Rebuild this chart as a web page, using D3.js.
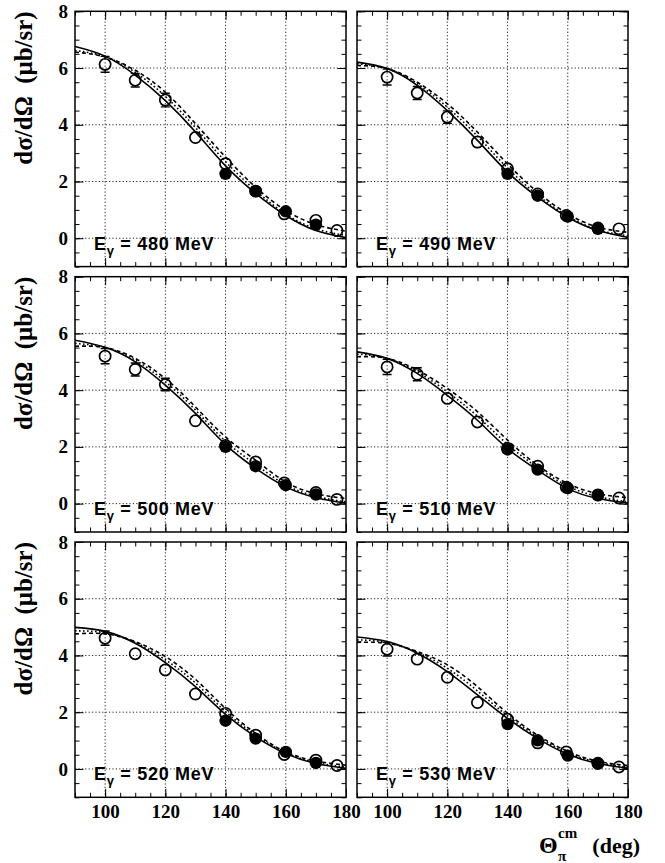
<!DOCTYPE html>
<html>
<head>
<meta charset="utf-8">
<script src="https://cdn.jsdelivr.net/npm/d3@7"></script>
<style>
  html, body { margin: 0; padding: 0; background: #fff; }
  svg { display: block; }
</style>
</head>
<body>
<div id="chart"></div>
<script>
// ---------------- data ----------------
const energies = [480, 490, 500, 510, 520, 530];

const openAngles = [100, 110, 120, 130, 140, 150, 159.5, 170, 177];
const openValues = [
  [6.13, 5.57, 4.87, 3.55, 2.63, 1.66, 0.86, 0.63, 0.27],
  [5.68, 5.12, 4.27, 3.39, 2.45, 1.56, 0.80, 0.36, 0.33],
  [5.20, 4.73, 4.20, 2.92, 2.05, 1.47, 0.73, 0.39, 0.15],
  [4.82, 4.56, 3.71, 2.88, 1.95, 1.32, 0.58, 0.31, 0.20],
  [4.61, 4.06, 3.49, 2.64, 1.96, 1.19, 0.51, 0.31, 0.12],
  [4.22, 3.87, 3.23, 2.34, 1.75, 0.92, 0.60, 0.20, 0.07]
];
const openErrors = [
  [0.28, 0.24, 0.24, 0.18, 0.15, 0.12, 0.10, 0.08, 0.06],
  [0.28, 0.23, 0.22, 0.18, 0.15, 0.12, 0.10, 0.08, 0.06],
  [0.27, 0.23, 0.22, 0.18, 0.15, 0.12, 0.10, 0.08, 0.06],
  [0.27, 0.23, 0.21, 0.17, 0.14, 0.11, 0.09, 0.07, 0.06],
  [0.25, 0.21, 0.20, 0.16, 0.14, 0.11, 0.09, 0.07, 0.05],
  [0.24, 0.20, 0.19, 0.16, 0.13, 0.10, 0.09, 0.07, 0.05]
];

const filledAngles = [140, 150, 160, 170];
const filledValues = [
  [2.27, 1.66, 0.95, 0.48],
  [2.27, 1.50, 0.76, 0.33],
  [2.00, 1.32, 0.65, 0.32],
  [1.91, 1.20, 0.55, 0.29],
  [1.70, 1.07, 0.60, 0.21],
  [1.58, 1.01, 0.47, 0.19]
];

const curveAngles = [90, 100, 110, 120, 130, 140, 150, 160, 170, 180];
const solidCurves = [
  [6.76, 6.42, 5.75, 4.85, 3.75, 2.55, 1.58, 0.80, 0.27, 0.02],
  [6.21, 5.98, 5.39, 4.50, 3.45, 2.33, 1.45, 0.74, 0.27, 0.03],
  [5.76, 5.51, 5.00, 4.18, 3.18, 2.08, 1.24, 0.59, 0.21, 0.02],
  [5.35, 5.12, 4.59, 3.82, 2.94, 1.94, 1.18, 0.53, 0.18, 0.02],
  [4.99, 4.85, 4.43, 3.75, 2.90, 1.92, 1.13, 0.54, 0.19, 0.02],
  [4.65, 4.49, 4.08, 3.43, 2.61, 1.78, 1.07, 0.52, 0.19, 0.02]
];
const dashedCurves = [
  [6.56, 6.39, 5.92, 5.15, 4.04, 2.86, 1.80, 0.98, 0.48, 0.25],
  [6.09, 5.98, 5.50, 4.74, 3.74, 2.62, 1.62, 0.86, 0.39, 0.21],
  [5.55, 5.50, 5.12, 4.41, 3.41, 2.35, 1.53, 0.76, 0.35, 0.18],
  [5.18, 5.12, 4.71, 4.06, 3.24, 2.24, 1.35, 0.71, 0.35, 0.21],
  [4.76, 4.76, 4.49, 3.96, 3.16, 2.13, 1.25, 0.60, 0.28, 0.13],
  [4.46, 4.43, 4.14, 3.67, 2.90, 1.96, 1.19, 0.62, 0.27, 0.12]
];
const dottedCurves = [
  [6.62, 6.40, 5.85, 5.00, 3.90, 2.70, 1.68, 0.85, 0.33, 0.10],
  [6.15, 5.98, 5.45, 4.62, 3.60, 2.47, 1.52, 0.78, 0.30, 0.08],
  [5.65, 5.50, 5.06, 4.30, 3.30, 2.20, 1.38, 0.66, 0.26, 0.06],
  [5.27, 5.12, 4.65, 3.94, 3.08, 2.09, 1.27, 0.62, 0.25, 0.06],
  [4.87, 4.80, 4.46, 3.85, 3.03, 2.02, 1.19, 0.57, 0.23, 0.06],
  [4.55, 4.46, 4.11, 3.55, 2.75, 1.87, 1.13, 0.57, 0.23, 0.06]
];

const xMajorTicks = [100, 120, 140, 160, 180];
const xGrid = [100, 120, 140, 160];
const yMajorTicks = [0, 2, 4, 6, 8];
const yGrid = [0, 2, 4, 6];

// ---------------- layout ----------------
const W = 665, H = 863;
const colX = [75, 357], colW = 271;
const rowY = [11.3, 276.7, 542], rowH = 255.3;
const serif = "'Liberation Serif', 'Times New Roman', serif";
const sans = "'Liberation Sans', Arial, sans-serif";

const svg = d3.select("#chart").append("svg")
  .attr("width", W).attr("height", H);

const line = (x, y) => d3.line().x(d => x(d[0])).y(d => y(d[1])).curve(d3.curveNatural);

energies.forEach((E, i) => {
  const col = i % 2, row = Math.floor(i / 2);
  const x0 = colX[col], y0 = rowY[row];
  const x = d3.scaleLinear().domain([90, 180]).range([x0, x0 + colW]);
  const y = d3.scaleLinear().domain([-1, 8]).range([y0 + rowH, y0]);
  const g = svg.append("g");

  const clipId = "clip" + i;
  svg.append("clipPath").attr("id", clipId).append("rect")
    .attr("x", x0).attr("y", y0).attr("width", colW).attr("height", rowH);

  // grid
  const grid = g.append("g").attr("stroke", "#222").attr("stroke-width", 1)
    .attr("stroke-dasharray", "1.2,2.2");
  grid.selectAll(".gx").data(xGrid).join("line")
    .attr("x1", d => x(d)).attr("x2", d => x(d))
    .attr("y1", y0).attr("y2", y0 + rowH);
  grid.selectAll(".gy").data(yGrid).join("line")
    .attr("x1", x0).attr("x2", x0 + colW)
    .attr("y1", d => y(d)).attr("y2", d => y(d));

  // axes (ticks inside, all four sides)
  const minorX = d3.range(90, 180.1, 5);
  const minorY = d3.range(-1, 8.01, 0.5);
  const bottomRow = row === 2, leftCol = col === 0;

  const styleAxis = (sel) => {
    sel.select(".domain").remove();
    sel.selectAll(".tick line").attr("stroke", "#000").attr("stroke-width", 1);
    sel.selectAll("text").attr("font-family", serif).attr("font-weight", "bold")
      .attr("font-size", 19).attr("fill", "#000");
  };

  g.append("g").attr("transform", `translate(0,${y0 + rowH})`)
    .call(d3.axisBottom(x).tickValues(minorX).tickSize(-4.5).tickFormat(""))
    .call(styleAxis);
  g.append("g").attr("transform", `translate(0,${y0 + rowH})`)
    .call(d3.axisBottom(x).tickValues(xMajorTicks).tickSize(-8.5).tickPadding(7)
      .tickFormat(bottomRow ? d3.format("d") : ""))
    .call(styleAxis);
  g.append("g").attr("transform", `translate(0,${y0})`)
    .call(d3.axisTop(x).tickValues(minorX).tickSize(-4.5).tickFormat(""))
    .call(styleAxis);
  g.append("g").attr("transform", `translate(0,${y0})`)
    .call(d3.axisTop(x).tickValues(xMajorTicks).tickSize(-8.5).tickFormat(""))
    .call(styleAxis);
  g.append("g").attr("transform", `translate(${x0},0)`)
    .call(d3.axisLeft(y).tickValues(minorY).tickSize(-4.5).tickFormat(""))
    .call(styleAxis);
  g.append("g").attr("transform", `translate(${x0},0)`)
    .call(d3.axisLeft(y).tickValues(yMajorTicks).tickSize(-8.5).tickPadding(7)
      .tickFormat(leftCol ? d3.format("d") : ""))
    .call(styleAxis);
  g.append("g").attr("transform", `translate(${x0 + colW},0)`)
    .call(d3.axisRight(y).tickValues(minorY).tickSize(-4.5).tickFormat(""))
    .call(styleAxis);
  g.append("g").attr("transform", `translate(${x0 + colW},0)`)
    .call(d3.axisRight(y).tickValues(yMajorTicks).tickSize(-8.5).tickFormat(""))
    .call(styleAxis);

  // frame
  g.append("rect").attr("x", x0).attr("y", y0).attr("width", colW).attr("height", rowH)
    .attr("fill", "none").attr("stroke", "#000").attr("stroke-width", 1.5);

  const plot = g.append("g").attr("clip-path", `url(#${clipId})`);
  const r = 5.6;

  // open circles with error bars
  const openPts = openAngles.map((a, k) => ({ a, v: openValues[i][k], e: openErrors[i][k] }));
  const eb = plot.append("g").attr("stroke", "#000").attr("stroke-width", 1.4);
  openPts.forEach(p => {
    const cx = x(p.a), cy = y(p.v);
    const top = y(p.v + p.e), bot = y(p.v - p.e);
    if (cy - top > r + 0.5) {
      eb.append("line").attr("x1", cx).attr("x2", cx).attr("y1", cy - r).attr("y2", top);
      eb.append("line").attr("x1", cx - 4.5).attr("x2", cx + 4.5).attr("y1", top).attr("y2", top);
    }
    if (bot - cy > r + 0.5) {
      eb.append("line").attr("x1", cx).attr("x2", cx).attr("y1", cy + r).attr("y2", bot);
      eb.append("line").attr("x1", cx - 4.5).attr("x2", cx + 4.5).attr("y1", bot).attr("y2", bot);
    }
  });
  plot.append("g").selectAll("circle").data(openPts).join("circle")
    .attr("cx", d => x(d.a)).attr("cy", d => y(d.v)).attr("r", r)
    .attr("fill", "none").attr("stroke", "#000").attr("stroke-width", 1.7);

  // filled circles
  plot.append("g").selectAll("circle")
    .data(filledAngles.map((a, k) => ({ a, v: filledValues[i][k] }))).join("circle")
    .attr("cx", d => x(d.a)).attr("cy", d => y(d.v)).attr("r", r + 0.6)
    .attr("fill", "#000");

  // curves
  const mk = arr => curveAngles.map((a, k) => [a, arr[k]]);
  plot.append("path").attr("d", line(x, y)(mk(dottedCurves[i])))
    .attr("fill", "none").attr("stroke", "#000").attr("stroke-width", 1.6)
    .attr("stroke-dasharray", "1.6,2.4");
  plot.append("path").attr("d", line(x, y)(mk(dashedCurves[i])))
    .attr("fill", "none").attr("stroke", "#000").attr("stroke-width", 1.6)
    .attr("stroke-dasharray", "4,3");
  plot.append("path").attr("d", line(x, y)(mk(solidCurves[i])))
    .attr("fill", "none").attr("stroke", "#000").attr("stroke-width", 1.6);

  // energy label
  const lbl = g.append("text").attr("x", x0 + 19).attr("y", y(0) + 11.5)
    .attr("font-family", sans).attr("font-weight", "bold").attr("font-size", 18)
    .attr("letter-spacing", "0.7px").attr("fill", "#000");
  lbl.append("tspan").text("E");
  lbl.append("tspan").attr("font-size", 13).attr("dy", 5).text("γ");
  lbl.append("tspan").attr("dy", -5).text(` = ${E} MeV`);

  // y-axis title
  if (leftCol) {
    svg.append("text")
      .attr("transform", `translate(32,${y0}) rotate(-90)`)
      .attr("text-anchor", "end")
      .attr("font-family", serif).attr("font-weight", "bold").attr("font-size", 25)
      .attr("fill", "#000")
      .attr("xml:space", "preserve")
      .text("dσ/dΩ  (μb/sr)");
  }
});

// x-axis title
const xt = svg.append("g").attr("font-family", serif).attr("font-weight", "bold").attr("fill", "#000");
xt.append("text").attr("x", 539).attr("y", 853).attr("font-size", 24).text("Θ");
xt.append("text").attr("x", 558).attr("y", 838).attr("font-size", 15).text("cm");
xt.append("text").attr("x", 558).attr("y", 861).attr("font-size", 15).text("π");
xt.append("text").attr("x", 640).attr("y", 853).attr("text-anchor", "end").attr("font-size", 22).text("(deg)");
</script>
</body>
</html>
